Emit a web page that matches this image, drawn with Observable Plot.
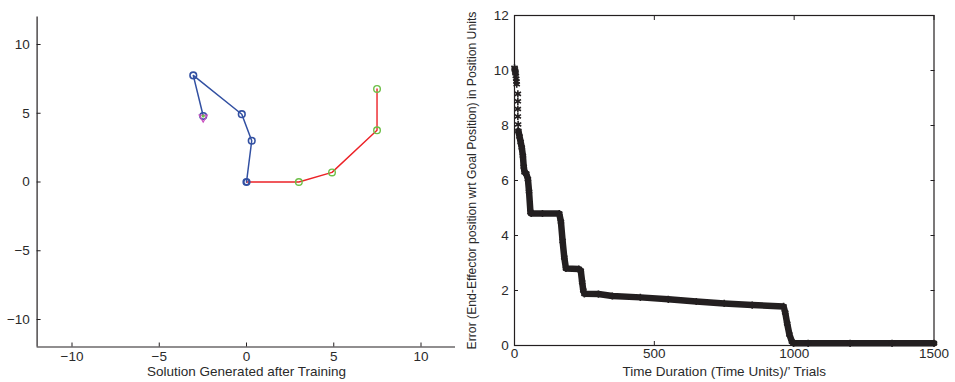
<!DOCTYPE html>
<html>
<head>
<meta charset="utf-8">
<script src="https://cdn.jsdelivr.net/npm/d3@7"></script>
<script src="https://cdn.jsdelivr.net/npm/@observablehq/plot@0.6"></script>
<style>
  html, body { margin: 0; padding: 0; background: #fff; }
  #wrap { position: relative; width: 955px; height: 382px; overflow: hidden; }
  #left { position: absolute; left: 0; top: 0; }
  #right { position: absolute; left: 455px; top: 0; }
</style>
</head>
<body>
<div id="wrap"><div id="left"></div><div id="right"></div></div>
<script>
// Trained arm: joint positions of the learned chain (blue) and the reference chain (red)
const armX = [0, 0.3, -0.27, -3.05, -2.48];
const armY = [0, 3.0, 4.93, 7.75, 4.8];
const refX = [0, 3.0, 4.9, 7.48, 7.48];
const refY = [0, 0, 0.7, 3.76, 6.77];
const goalX = [-2.48];
const goalY = [4.8];
const tickL = [-10, -5, 0, 5, 10];

// Error of the end-effector vs. trials: early readings drawn as separate stars
const startX = [0, 1, 2, 3, 4, 5, 6, 7, 8, 12, 12, 12, 12, 13];
const startY = [10.1, 10.05, 10.0, 9.95, 9.9, 9.8, 9.7, 9.6, 9.5, 9.15, 8.88, 8.6, 8.33, 8.04];
// ...then a dense run of readings
const errX = [14, 18, 22, 26, 30, 33, 36, 42, 48, 52, 57, 60, 100, 160, 166, 172, 178, 184,
              230, 237, 242, 246, 250, 300, 350, 450, 550, 650, 750, 850, 962, 968, 975, 983, 992, 998, 1050, 1200, 1350, 1500];
const errY = [7.8, 7.6, 7.4, 7.2, 6.9, 6.5, 6.3, 6.25, 6.05, 5.6, 4.85, 4.8, 4.8, 4.8, 4.5, 3.8, 3.2, 2.8,
              2.78, 2.72, 2.3, 2.0, 1.88, 1.87, 1.8, 1.75, 1.68, 1.6, 1.53, 1.47, 1.42, 1.2, 0.8, 0.4, 0.14, 0.08, 0.08, 0.08, 0.08, 0.08];
const tickRX = [0, 500, 1000, 1500];
const tickRY = [0, 2, 4, 6, 8, 10, 12];

const ink = "#231f20";
const font = "'Liberation Sans', Arial, Helvetica, sans-serif";
const style = { fontFamily: font, fontSize: "13.5px", color: "#2a2a2a", background: "white", overflow: "visible" };
const blank = () => "";
const plain = d => String(d);

const arm = armX.map((x, i) => ({ x, y: armY[i] }));
const ref = refX.map((x, i) => ({ x, y: refY[i] }));
const goal = goalX.map((x, i) => ({ x, y: goalY[i] }));

const left = Plot.plot({
  width: 460, height: 382,
  marginLeft: 36.6, marginRight: 4.6, marginTop: 16.5, marginBottom: 35.5,
  style,
  x: { domain: [-12, 12] },
  y: { domain: [-12, 12] },
  marks: [
    Plot.ruleX([-12], { stroke: ink, strokeWidth: 1.2 }),
    Plot.ruleY([-12], { stroke: ink, strokeWidth: 1.2 }),
    Plot.axisX(tickL, { tickSize: -4, tickPadding: 8, label: null, stroke: ink }),
    Plot.axisY(tickL, { tickSize: -4, tickPadding: 11.3, label: null, stroke: ink }),
    Plot.text(["Solution Generated after Training"], {
      frameAnchor: "bottom", lineAnchor: "top", dy: 19.2, fill: "#2a2a2a"
    }),
    Plot.line(ref, { x: "x", y: "y", stroke: "#ec2227", strokeWidth: 1.4 }),
    Plot.dot(ref.slice(1), { x: "x", y: "y", r: 3.3, stroke: "#6cbf47", strokeWidth: 1.4 }),
    Plot.line(arm, { x: "x", y: "y", stroke: "#3250a2", strokeWidth: 1.5 }),
    Plot.dot(arm, { x: "x", y: "y", r: 3.3, stroke: "#3250a2", strokeWidth: 1.6 }),
    Plot.dot(arm.slice(0, 1), { x: "x", y: "y", r: 2.6, stroke: "#3250a2", strokeWidth: 1.4 }),
    Plot.dot(goal, { x: "x", y: "y", r: 3, symbol: "triangle", rotate: 180, stroke: "#c84fc0", strokeWidth: 1.2, dy: 1.5 }),
    Plot.dot(goal, { x: "x", y: "y", r: 1.6, fill: "#6cbf47" })
  ]
});
document.getElementById("left").append(left);

const start = startX.map((x, i) => ({ x, y: startY[i] }));
const err = errX.map((x, i) => ({ x, y: errY[i] }));

const right = Plot.plot({
  width: 500, height: 382,
  marginLeft: 59, marginRight: 21.5, marginTop: 15, marginBottom: 37,
  style,
  x: { domain: [0, 1500] },
  y: { domain: [0, 12] },
  marks: [
    Plot.frame({ stroke: ink, strokeWidth: 1.2 }),
    Plot.axisX(tickRX, { anchor: "bottom", tickSize: -4, tickPadding: 7.3, tickFormat: plain, label: null, stroke: ink }),
    Plot.axisX(tickRX, { anchor: "top", tickSize: -4, tickFormat: blank, label: null, stroke: ink }),
    Plot.axisY(tickRY, { anchor: "left", tickSize: -4, tickPadding: 9.7, tickFormat: plain, label: null, stroke: ink }),
    Plot.axisY(tickRY, { anchor: "right", tickSize: -4, tickFormat: blank, label: null, stroke: ink }),
    Plot.text(["Time Duration (Time Units)/\u2019 Trials"], {
      frameAnchor: "bottom", lineAnchor: "top", dy: 20.7, fill: "#2a2a2a"
    }),
    Plot.text(["Error (End-Effector position wrt Goal Position) in Position Units"], {
      frameAnchor: "left", textAnchor: "middle", rotate: -90, dx: -42, fontSize: 12.2, fill: "#2a2a2a"
    }),
    Plot.line(err, { x: "x", y: "y", stroke: ink, strokeWidth: 6.5, strokeLinejoin: "round", strokeLinecap: "round" }),
    Plot.dot(err, { x: "x", y: "y", symbol: "asterisk", r: 3.4, stroke: ink, strokeWidth: 1.6 }),
    Plot.dot(start, { x: "x", y: "y", symbol: "asterisk", r: 3.4, stroke: ink, strokeWidth: 1.6 })
  ]
});
document.getElementById("right").append(right);
</script>
</body>
</html>
